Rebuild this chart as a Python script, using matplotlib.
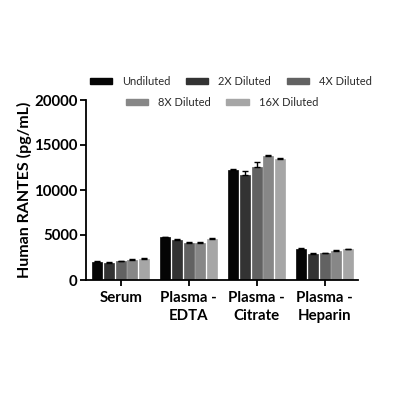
import matplotlib
matplotlib.use("Agg")
import matplotlib.pyplot as plt
import numpy as np
from matplotlib.patches import Patch

plt.rcParams['font.family'] = ['Lato', 'DejaVu Sans']

categories = ["Serum", "Plasma -\nEDTA", "Plasma -\nCitrate", "Plasma -\nHeparin"]
series = ["Undiluted", "2X Diluted", "4X Diluted", "8X Diluted", "16X Diluted"]
undiluted = [2050, 4730, 12200, 3480]
dil2x = [1920, 4480, 11700, 2930]
dil4x = [2100, 4110, 12550, 2970]
dil8x = [2260, 4110, 13800, 3230]
dil16x = [2320, 4550, 13500, 3400]
err_undiluted = [60, 80, 80, 60]
err_2x = [60, 80, 400, 60]
err_4x = [60, 60, 600, 60]
err_8x = [80, 60, 120, 60]
err_16x = [80, 80, 60, 80]
colors = ["#050505", "#333333", "#626262", "#878787", "#a6a6a6"]

values = [undiluted, dil2x, dil4x, dil8x, dil16x]
errors = [err_undiluted, err_2x, err_4x, err_8x, err_16x]

fig = plt.figure(figsize=(4, 4), dpi=100)
ax = fig.add_axes([0.215, 0.30, 0.68, 0.45])

x = np.arange(len(categories))
step = 0.173
width = 0.147
for i, (vals, errs, c) in enumerate(zip(values, errors, colors)):
    pos = x + (i - 2) * step
    ax.bar(pos, vals, width=width, color=c, edgecolor=c, linewidth=0.5, label=series[i], zorder=2)
    ax.errorbar(pos, vals, yerr=[np.zeros(len(errs)), errs], fmt='none', ecolor='black',
                elinewidth=1.0, capsize=2.5, capthick=1.0, zorder=3)

ax.set_xlim(-0.51, 3.49)
ax.set_ylim(0, 20000)
ax.set_yticks([0, 5000, 10000, 15000, 20000])
ax.set_xticks(x)
ax.set_xticklabels(categories, fontsize=10.8, fontweight='bold', linespacing=1.35)
for lab in ax.get_yticklabels():
    lab.set_fontsize(10.8)
    lab.set_fontweight('bold')
ax.set_ylabel("Human RANTES (pg/mL)", fontsize=11.5, fontweight='bold', labelpad=2)
ax.spines['top'].set_visible(False)
ax.spines['right'].set_visible(False)
ax.spines['left'].set_linewidth(1.3)
ax.spines['bottom'].set_linewidth(1.3)
ax.tick_params(axis='both', width=1.3, length=4, pad=2)
ax.tick_params(axis='x', pad=4)

handles = [Patch(facecolor=c, edgecolor=c, label=s) for c, s in zip(colors, series)]
common = dict(frameon=False, fontsize=8, handlelength=2.0, handleheight=0.45,
              columnspacing=1.4, handletextpad=0.9)
leg1 = fig.legend(handles=handles[:3], loc='center', bbox_to_anchor=(0.577, 0.797), ncol=3, **common)
leg2 = fig.legend(handles=handles[3:], loc='center', bbox_to_anchor=(0.555, 0.745), ncol=2, **common)
for leg in (leg1, leg2):
    for t in leg.get_texts():
        t.set_color('#2a2a2a')

fig.savefig("out.png", dpi=100)
